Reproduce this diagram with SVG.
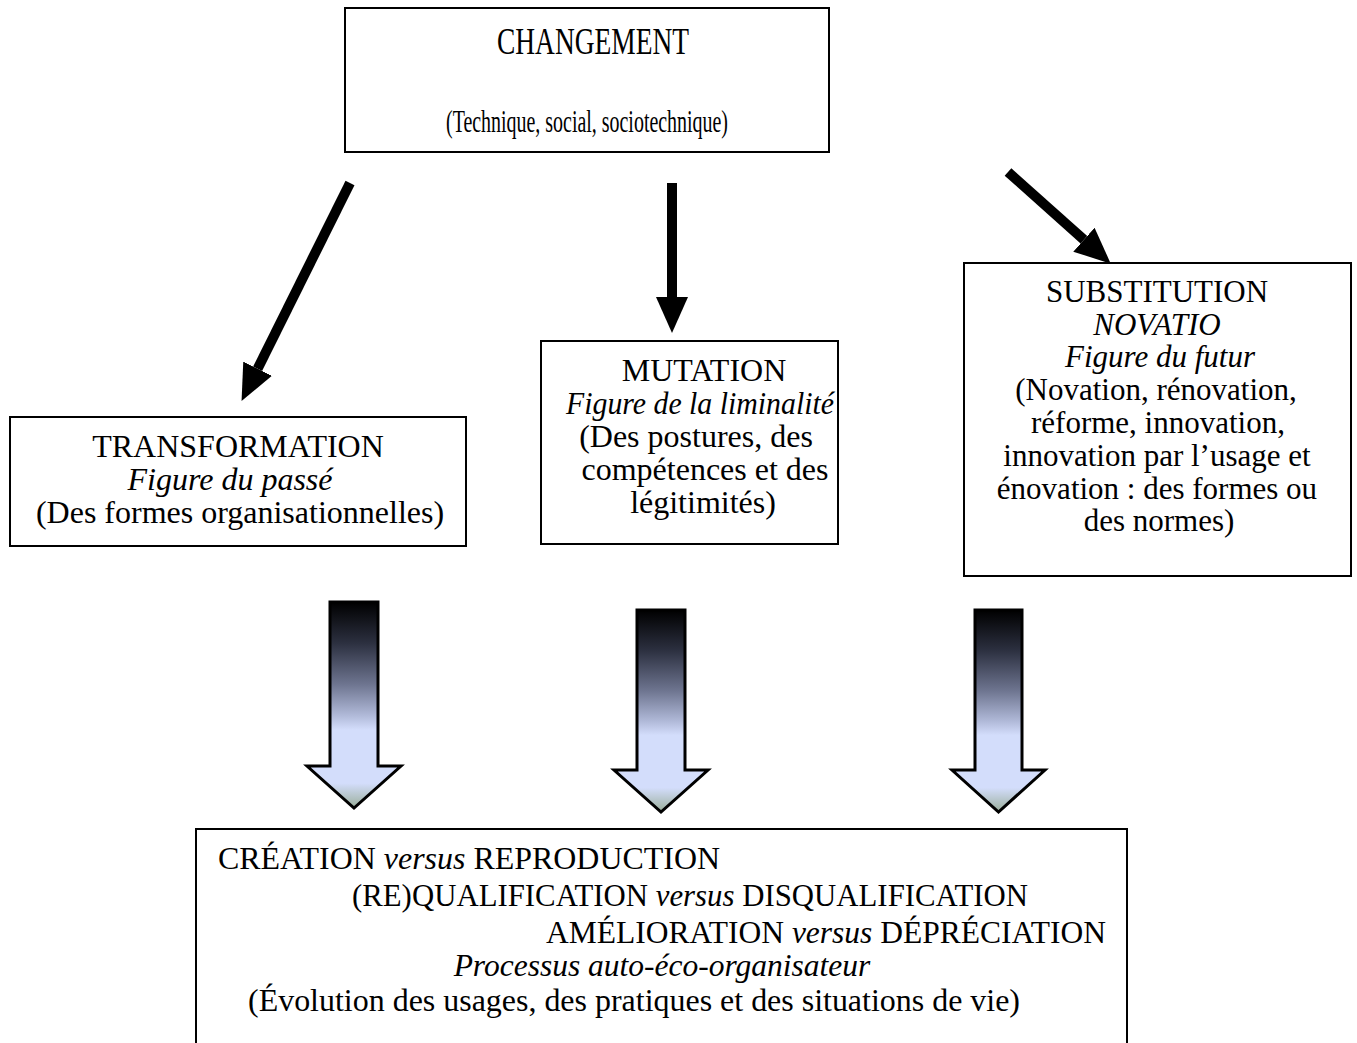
<svg xmlns="http://www.w3.org/2000/svg" width="1357" height="1043" viewBox="0 0 1357 1043">
<style>
.box{fill:#fff;stroke:#000;stroke-width:2}
text{font-family:"Liberation Serif","Times New Roman",serif;font-size:32px;fill:#000}
.c{text-anchor:middle}
.i{font-style:italic}
.big{font-size:37px}
.sub{font-size:31px}
.bot{font-size:31.5px}
.arr{stroke:#000;stroke-width:10;fill:none}
.blk{stroke:#000;stroke-width:3;stroke-linejoin:miter;fill:url(#grad)}
</style>
<defs>
<marker id="head" markerUnits="userSpaceOnUse" markerWidth="36" markerHeight="32" refX="0" refY="16" orient="auto" viewBox="0 0 36 32">
<path d="M0,0 L36,16 L0,32 Z" fill="#000"/>
</marker>
<linearGradient id="grad" x1="0" y1="0" x2="0" y2="1">
<stop offset="0" stop-color="#000"/>
<stop offset="0.2" stop-color="#2c3040"/>
<stop offset="0.4" stop-color="#6e7590"/>
<stop offset="0.55" stop-color="#b0b9d8"/>
<stop offset="0.62" stop-color="#d3ddfb"/>
<stop offset="0.88" stop-color="#d3ddfb"/>
<stop offset="1" stop-color="#9aae9a"/>
</linearGradient>
</defs>
<g id="changement">
<rect class="box" x="345" y="8" width="484" height="144"/>
<text class="big" x="497" y="54" textLength="192" lengthAdjust="spacingAndGlyphs">CHANGEMENT</text>
<text x="446" y="132" font-size="33" textLength="282" lengthAdjust="spacingAndGlyphs">(Technique, social, sociotechnique)</text>
</g>
<g id="connectors">
<line class="arr" x1="350" y1="183" x2="257.6" y2="368.7" marker-end="url(#head)"/>
<line class="arr" x1="672" y1="183" x2="672" y2="297" marker-end="url(#head)"/>
<line class="arr" x1="1008" y1="172" x2="1083.9" y2="239.7" marker-end="url(#head)"/>
<path class="blk" d="M330,602 H378 V766 H401 L354,808 L307,766 H330 Z"/>
<path class="blk" d="M637,610 H685 V770 H708 L661,812 L614,770 H637 Z"/>
<path class="blk" d="M975,610 H1022 V770 H1045 L998.5,812 L952,770 H975 Z"/>
</g>
<g id="transformation">
<rect class="box" x="10" y="417" width="456" height="129"/>
<text class="c" x="238" y="457">TRANSFORMATION</text>
<text class="c i" x="230" y="490">Figure du passé</text>
<text class="c" x="240" y="523">(Des formes organisationnelles)</text>
</g>
<g id="mutation">
<rect class="box" x="541" y="341" width="297" height="203"/>
<text class="c" x="704" y="381">MUTATION</text>
<text x="566" y="414" class="i" textLength="268" lengthAdjust="spacingAndGlyphs">Figure de la liminalité</text>
<text class="c" x="696" y="447">(Des postures, des</text>
<text class="c" x="705" y="480">compétences et des</text>
<text class="c" x="703" y="513">légitimités)</text>
</g>
<g id="substitution">
<rect class="box" x="964" y="263" width="387" height="313"/>
<text class="c sub" x="1157" y="302">SUBSTITUTION</text>
<text class="c i sub" x="1157" y="335">NOVATIO</text>
<text class="c i sub" x="1160" y="367">Figure du futur</text>
<text class="c sub" x="1156" y="400">(Novation, rénovation,</text>
<text class="c sub" x="1158" y="433">réforme, innovation,</text>
<text class="c sub" x="1157" y="466">innovation par l’usage et</text>
<text class="c sub" x="1157" y="499">énovation : des formes ou</text>
<text class="c sub" x="1159" y="531">des normes)</text>
</g>
<g id="resultat">
<path class="box" d="M196,1045 V829 H1127 V1045"/>
<text class="bot" x="218" y="869" textLength="502" lengthAdjust="spacingAndGlyphs">CRÉATION <tspan class="i">versus</tspan> REPRODUCTION</text>
<text class="bot" x="352" y="906" textLength="676" lengthAdjust="spacingAndGlyphs">(RE)QUALIFICATION <tspan class="i">versus</tspan> DISQUALIFICATION</text>
<text class="bot" x="1106" y="943" text-anchor="end">AMÉLIORATION <tspan class="i">versus</tspan> DÉPRÉCIATION</text>
<text class="c i bot" x="662" y="976">Processus auto-éco-organisateur</text>
<text class="c bot" x="634" y="1011" textLength="772" lengthAdjust="spacingAndGlyphs">(Évolution des usages, des pratiques et des situations de vie)</text>
</g>
</svg>
